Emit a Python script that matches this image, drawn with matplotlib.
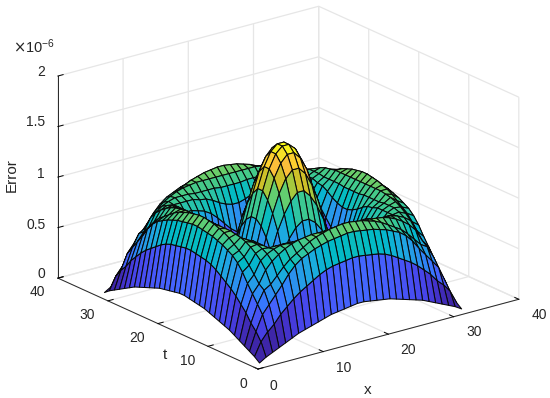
import numpy as np
import matplotlib
matplotlib.use("Agg")
import matplotlib.pyplot as plt
from matplotlib.colors import LinearSegmentedColormap, Normalize

# error values (in units of 1e-6), one corner of the symmetric surface
corner_rows = [
    [.02, .06, .09, .12, .15, .18, .21, .23, .25, .27, .29, .31, .32, .33, .34, .35],
    [.06, .19, .27, .33, .41, .47, .53, .58, .62, .66, .70, .73, .75, .76, .77, .78],
    [.09, .27, .42, .50, .58, .66, .75, .82, .87, .90, .93, .95, .97, .98, .99, 1.00],
    [.12, .33, .50, .62, .66, .73, .80, .86, .90, .94, .98, 1.01, 1.03, 1.05, 1.06, 1.07],
    [.15, .41, .58, .66, .78, .85, .90, .94, .97, .99, 1.00, 1.01, 1.01, 1.01, 1.01, 1.01],
    [.18, .47, .66, .73, .85, .90, .93, .95, .95, .95, .94, .94, .94, .94, .93, .93],
    [.21, .53, .75, .80, .90, .93, .92, .92, .92, .92, .90, .89, .86, .82, .79, .77],
    [.23, .58, .82, .86, .94, .95, .92, .85, .85, .83, .81, .77, .71, .64, .57, .52],
    [.25, .62, .87, .90, .97, .95, .92, .85, .70, .66, .58, .50, .40, .31, .26, .25],
    [.27, .66, .90, .94, .99, .95, .92, .83, .66, .50, .42, .36, .31, .30, .33, .37],
    [.29, .70, .93, .98, 1.00, .94, .90, .81, .58, .42, .40, .42, .47, .54, .61, .65],
    [.31, .73, .95, 1.01, 1.01, .94, .89, .77, .50, .36, .42, .52, .65, .78, .87, .92],
    [.32, .75, .97, 1.03, 1.01, .94, .86, .71, .40, .31, .47, .65, .85, 1.00, 1.11, 1.18],
    [.33, .76, .98, 1.05, 1.01, .94, .82, .64, .31, .30, .54, .78, 1.00, 1.18, 1.31, 1.38],
    [.34, .77, .99, 1.06, 1.01, .93, .79, .57, .26, .33, .61, .87, 1.11, 1.31, 1.44, 1.51],
    [.35, .78, 1.00, 1.07, 1.01, .93, .77, .52, .25, .37, .65, .92, 1.18, 1.38, 1.51, 1.57],
]
x_ticks = [0, 10, 20, 30, 40]
t_ticks = [0, 10, 20, 30, 40]
z_ticks = [0, 0.5, 1, 1.5, 2]
x_labels = ["0", "10", "20", "30", "40"]
t_labels = ["0", "10", "20", "30", "40"]
z_labels = ["0", "0.5", "1", "1.5", "2"]

parula = LinearSegmentedColormap.from_list("parula", [
    (.2422, .1504, .6603), (.2647, .1978, .7952), (.2783, .2559, .8991), (.2813, .3006, .9414),
    (.2795, .3447, .9717), (.2699, .3892, .9906), (.2440, .4358, .9988), (.1963, .4847, .9892),
    (.1786, .5289, .9682), (.1687, .5703, .9359), (.1460, .6091, .9079), (.1248, .6459, .8883),
    (.0952, .6798, .8598), (.0297, .7082, .8163), (.0067, .7312, .7660), (.0964, .7500, .7120),
    (.1717, .7670, .6554), (.2161, .7843, .5923), (.2906, .7973, .5188), (.3909, .8029, .4354),
    (.5044, .7993, .3480), (.6174, .7876, .2612), (.7242, .7698, .1910), (.8203, .7498, .1535),
    (.9035, .7330, .1774), (.9728, .7298, .2394), (.9970, .7659, .2199), (.9892, .8136, .1885),
    (.9676, .8639, .1643), (.9597, .9135, .1423), (.9691, .9606, .1064), (.9769, .9839, .0805),
])

plt.rcParams["font.family"] = ["Liberation Sans", "DejaVu Sans"]
text_color = "#262626"
grid_color = "#e6e6e6"

corner = np.array(corner_rows)
error = np.block([[corner, corner[:, ::-1]], [corner[::-1], corner[::-1, ::-1]]])
x, t = np.meshgrid(np.arange(1, 33), np.arange(1, 33))

fig = plt.figure(figsize=(5.5, 3.98), dpi=100)
ax = fig.add_axes([0.1527, 0.015, 0.7236, 1.0], projection="3d", proj_type="ortho")
ax.view_init(elev=20.4, azim=-127.5)
ax.set_box_aspect((1, 1, 0.656), zoom=1.25)

colors = parula(Normalize(0.1, error.max())(error))
ax.plot_surface(x, t, error, facecolors=colors, rstride=1, cstride=1, shade=False,
                edgecolor="#080808", linewidth=0.75)

ax.set_xlim(0, 40, view_margin=0)
ax.set_ylim(0, 40, view_margin=0)
ax.set_zlim(0, 2, view_margin=0)
ax.set_xticks(x_ticks)
ax.set_yticks(t_ticks)
ax.set_zticks(z_ticks)
ax.set_xticklabels([])
ax.set_yticklabels([])
ax.set_zticklabels([])

for axis in (ax.xaxis, ax.yaxis, ax.zaxis):
    axis.set_pane_color((1, 1, 1, 0))
    axis.pane.set_edgecolor(grid_color)
    axis.line.set_color(text_color)
    axis.line.set_linewidth(0.7)
    axis._axinfo["grid"].update(color=grid_color, linewidth=0.9)
    axis._axinfo["tick"].update(inward_factor=0, outward_factor=0.25, linewidth={True: 0.7, False: 0.7},
                                color=text_color)


def put_text(px, py, text, size=10, **kwargs):
    # text placed by pixel position in the 550x398 picture
    fig.text(px / 550, 1 - py / 398, text, fontsize=size, color=text_color, ha="center", va="center", **kwargs)


for label, px, py in zip(x_labels, [273, 344, 408, 474, 539], [386, 368, 350, 332, 315]):
    put_text(px, py, label)
for label, px, py in zip(t_labels, [243, 188, 137, 87, 37], [384, 361, 338, 315, 292]):
    put_text(px, py, label)
for label, px, py in zip(z_labels, [41, 36, 41, 36, 41], [274, 225, 174, 122, 72]):
    put_text(px, py, label)

put_text(368, 390, "x", size=11)
put_text(165, 355, "t", size=11)
put_text(12, 175, "Error", size=11, rotation=90)
put_text(34, 47, r"$\times\mathdefault{10^{-6}}$", size=10.5)

fig.savefig("out.png", dpi=100)
